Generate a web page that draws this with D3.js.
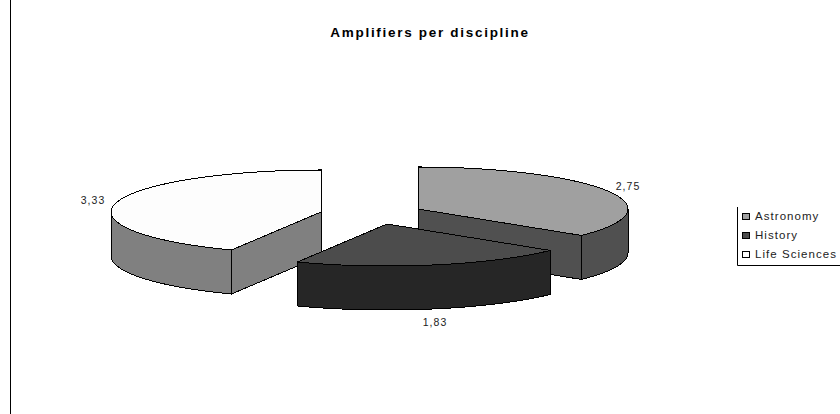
<!DOCTYPE html>
<html>
<head>
<meta charset="utf-8">
<script src="https://cdn.jsdelivr.net/npm/d3@7"></script>
<style>
html, body { margin: 0; padding: 0; background: #fff; }
svg { display: block; }
text { font-family: "Liberation Sans", Arial, sans-serif; fill: #222; }
</style>
</head>
<body>
<svg id="chart" width="840" height="414"></svg>
<script>
const categories = ["Astronomy", "History", "Life Sciences"];
const values = [2.75, 1.83, 3.33];
const topColors = ["#a0a0a0", "#4c4c4c", "#fdfdfd"];
const sideColors = ["#505050", "#262626", "#808080"];

const width = 840, height = 414;
const rx = 210, ry = 42, depth = 44;
// centre of each exploded slice
const centres = [[418, 209], [387, 224], [321, 212]];
const labelPos = [[628, 190], [435, 326], [93, 204]];
// the picture's tilt squeezes the slice edges sideways
const tilt = 0.87;

const svg = d3.select("#chart");

const x = d3.scaleLinear().domain([-1, 1]).range([-rx, rx]);
const y = d3.scaleLinear().domain([-1, 1]).range([-ry, ry]);

const slices = d3.pie().sort(null).startAngle(0).endAngle(2 * Math.PI)(values);

function project(a) {
    return Math.atan2(tilt * Math.sin(a), Math.cos(a));
}
function unwrap(a) {
    const p = project(a);
    return p < 0 ? p + 2 * Math.PI : p;
}
function rimPoint(c, a, dy = 0) {
    return [c[0] + x(Math.sin(a)), c[1] + y(-Math.cos(a)) + dy];
}
function rimPoints(c, a0, a1, dy = 0) {
    const n = 60;
    return d3.range(n + 1).map(i => rimPoint(c, a0 + (a1 - a0) * i / n, dy));
}

const line = d3.line();

function topFace(c, a0, a1) {
    return line([c].concat(rimPoints(c, a0, a1))) + "Z";
}
function outerWall(c, a0, a1) {
    const pts = rimPoints(c, a0, a1);
    return line(pts.concat(rimPoints(c, a1, a0, depth))) + "Z";
}
function edgeWall(c, a) {
    const p = rimPoint(c, a);
    return line([c, p, [p[0], p[1] + depth], [c[0], c[1] + depth]]) + "Z";
}

// painted back to front: life sciences, astronomy, then history in front
const order = [2, 0, 1];
const pie = svg.append("g").attr("shape-rendering", "crispEdges");

order.forEach(i => {
    const c = centres[i];
    const a0 = unwrap(slices[i].startAngle);
    let a1 = unwrap(slices[i].endAngle);
    if (a1 <= a0) a1 += 2 * Math.PI;
    const g = pie.append("g").attr("stroke", "#000").attr("stroke-width", 1);

    // slices whose start edge faces the viewer
    if (i === 2) {
        g.append("path").attr("d", edgeWall(c, a0)).attr("fill", sideColors[i]);
        g.append("path").attr("d", outerWall(c, a0, 1.5 * Math.PI)).attr("fill", sideColors[i]);
    } else if (i === 0) {
        g.append("path").attr("d", edgeWall(c, a1)).attr("fill", sideColors[i]);
        g.append("path").attr("d", outerWall(c, 0.5 * Math.PI, a1)).attr("fill", sideColors[i]);
    } else {
        g.append("path").attr("d", outerWall(c, a0, a1)).attr("fill", sideColors[i]);
    }
    g.append("path").attr("d", topFace(c, a0, a1)).attr("fill", topColors[i]);
});

svg.append("g").selectAll("text")
    .data(values)
    .join("text")
    .attr("x", (d, i) => labelPos[i][0])
    .attr("y", (d, i) => labelPos[i][1])
    .attr("text-anchor", "middle")
    .attr("font-size", 10.5)
    .attr("letter-spacing", 1)
    .text(d => String(d).replace(".", ","));

svg.append("text")
    .attr("x", 430)
    .attr("y", 37)
    .attr("text-anchor", "middle")
    .attr("font-size", 13.5)
    .attr("font-weight", "bold")
    .attr("letter-spacing", 1.7)
    .style("fill", "#000")
    .text("Amplifiers per discipline");

// left rule of the page
svg.append("line")
    .attr("x1", 10.5).attr("x2", 10.5)
    .attr("y1", 0).attr("y2", height)
    .attr("stroke", "#000");

// legend with its left and bottom border
const legendY = d3.scalePoint().domain(categories).range([217, 255]);
const legend = svg.append("g");
legend.append("path")
    .attr("d", "M737.5,207V265.5H840")
    .attr("fill", "none")
    .attr("stroke", "#000");

const entries = legend.selectAll("g")
    .data(categories)
    .join("g")
    .attr("transform", d => `translate(742,${legendY(d)})`);
entries.append("rect")
    .attr("x", 0.5).attr("y", -3.5)
    .attr("width", 7).attr("height", 6)
    .attr("fill", (d, i) => topColors[i])
    .attr("stroke", "#000");
entries.append("text")
    .attr("x", 13)
    .attr("y", 3)
    .attr("font-size", 11.5)
    .attr("letter-spacing", 1.05)
    .text(d => d);
</script>
</body>
</html>
